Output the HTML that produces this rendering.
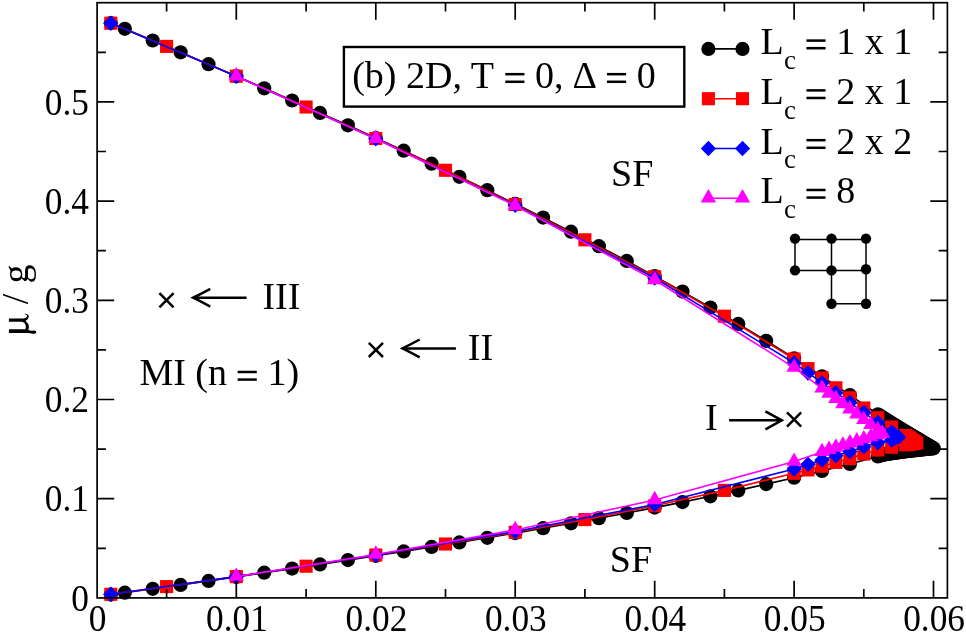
<!DOCTYPE html>
<html><head><meta charset="utf-8"><title>Phase diagram</title>
<style>html,body{margin:0;padding:0;background:#fff;}body{width:966px;height:634px;overflow:hidden;}svg{display:block;will-change:transform;}text{font-family:"Liberation Serif",serif;fill:#000;white-space:pre;}</style>
</head><body>
<svg width="966" height="634" viewBox="0 0 966 634">
<rect width="966" height="634" fill="#fff"/>
<defs>
<circle id="mc" r="7.1" fill="#000"/>
<rect id="ms" x="-6.55" y="-6.55" width="13.1" height="13.1" fill="#f00"/>
<path id="md" d="M0,-7.8L7.6,0L0,7.8L-7.6,0Z" fill="#00f"/>
<path id="mt" d="M0,-9.2L7.7,4.2L-7.7,4.2Z" fill="#f0f"/>
<path id="mx" d="M-7.1,-7.1L7.1,7.1M-7.1,7.1L7.1,-7.1" stroke="#000" stroke-width="2.5" fill="none"/>
</defs>
<g><polyline points="110.8,23.0 124.8,28.8 152.7,40.5 180.6,52.3 208.5,64.2 236.3,76.2 264.2,88.3 292.1,100.5 320.0,112.9 347.9,125.3 375.8,138.0 403.7,150.7 431.6,163.7 459.4,176.8 487.3,190.2 515.2,203.8 543.1,217.6 571.0,231.7 598.9,246.2 626.8,260.9 654.7,276.1 682.5,291.6 710.4,307.5 738.3,323.9 766.2,340.8 794.1,358.3 822.0,376.3 849.9,395.0 877.8,414.3 879.2,415.2 880.6,416.1 882.0,417.0 883.4,417.9 884.8,418.8 886.2,419.7 887.6,420.5 889.0,421.4 890.3,422.3 891.7,423.1 893.1,424.0 894.5,424.8 895.9,425.7 897.3,426.6 898.7,427.4 900.1,428.3 901.5,429.1 902.9,430.0 904.3,430.8 905.7,431.6 907.1,432.5 908.5,433.3 909.9,434.2 911.3,435.0 912.7,435.8 914.1,436.7 915.5,437.5 916.9,438.3 918.3,439.2 919.7,440.0 921.1,440.8 922.5,441.7 923.9,442.5 925.3,443.3 926.7,444.2 928.1,445.0 929.5,445.8 930.9,446.6 932.3,447.5 933.7,448.3 932.3,448.4 930.9,448.6 929.5,448.7 928.1,448.9 926.7,449.0 925.3,449.2 923.9,449.3 922.5,449.5 921.1,449.6 919.7,449.8 918.3,449.9 916.9,450.1 915.5,450.2 914.1,450.4 912.7,450.5 911.3,450.7 909.9,450.9 908.5,451.0 907.1,451.2 905.7,451.4 904.3,451.5 902.9,451.7 901.5,451.9 900.1,452.1 898.7,452.3 897.3,452.5 895.9,452.7 894.5,452.9 893.1,453.1 891.7,453.3 890.3,453.5 889.0,453.7 887.6,454.0 886.2,454.2 884.8,454.5 883.4,454.8 882.0,455.1 880.6,455.4 879.2,455.8 877.8,456.5 849.9,463.9 822.0,470.9 794.1,477.7 766.2,484.1 738.3,490.4 710.4,496.3 682.5,502.1 654.7,507.6 626.8,513.0 598.9,518.2 571.0,523.3 543.1,528.2 515.2,533.1 487.3,537.8 459.4,542.4 431.6,546.9 403.7,551.4 375.8,555.8 347.9,560.1 320.0,564.4 292.1,568.6 264.2,572.7 236.3,576.9 208.5,580.9 180.6,584.9 152.7,588.8 124.8,592.7 110.8,594.6" fill="none" stroke="#000" stroke-width="1.6" stroke-linejoin="round"/>
<use href="#mc" x="110.8" y="23.0"/><use href="#mc" x="124.8" y="28.8"/><use href="#mc" x="152.7" y="40.5"/><use href="#mc" x="180.6" y="52.3"/><use href="#mc" x="208.5" y="64.2"/><use href="#mc" x="236.3" y="76.2"/><use href="#mc" x="264.2" y="88.3"/><use href="#mc" x="292.1" y="100.5"/><use href="#mc" x="320.0" y="112.9"/><use href="#mc" x="347.9" y="125.3"/><use href="#mc" x="375.8" y="138.0"/><use href="#mc" x="403.7" y="150.7"/><use href="#mc" x="431.6" y="163.7"/><use href="#mc" x="459.4" y="176.8"/><use href="#mc" x="487.3" y="190.2"/><use href="#mc" x="515.2" y="203.8"/><use href="#mc" x="543.1" y="217.6"/><use href="#mc" x="571.0" y="231.7"/><use href="#mc" x="598.9" y="246.2"/><use href="#mc" x="626.8" y="260.9"/><use href="#mc" x="654.7" y="276.1"/><use href="#mc" x="682.5" y="291.6"/><use href="#mc" x="710.4" y="307.5"/><use href="#mc" x="738.3" y="323.9"/><use href="#mc" x="766.2" y="340.8"/><use href="#mc" x="794.1" y="358.3"/><use href="#mc" x="822.0" y="376.3"/><use href="#mc" x="849.9" y="395.0"/><use href="#mc" x="877.8" y="414.3"/><use href="#mc" x="879.2" y="415.2"/><use href="#mc" x="880.6" y="416.1"/><use href="#mc" x="882.0" y="417.0"/><use href="#mc" x="883.4" y="417.9"/><use href="#mc" x="884.8" y="418.8"/><use href="#mc" x="886.2" y="419.7"/><use href="#mc" x="887.6" y="420.5"/><use href="#mc" x="889.0" y="421.4"/><use href="#mc" x="890.3" y="422.3"/><use href="#mc" x="891.7" y="423.1"/><use href="#mc" x="893.1" y="424.0"/><use href="#mc" x="894.5" y="424.8"/><use href="#mc" x="895.9" y="425.7"/><use href="#mc" x="897.3" y="426.6"/><use href="#mc" x="898.7" y="427.4"/><use href="#mc" x="900.1" y="428.3"/><use href="#mc" x="901.5" y="429.1"/><use href="#mc" x="902.9" y="430.0"/><use href="#mc" x="904.3" y="430.8"/><use href="#mc" x="905.7" y="431.6"/><use href="#mc" x="907.1" y="432.5"/><use href="#mc" x="908.5" y="433.3"/><use href="#mc" x="909.9" y="434.2"/><use href="#mc" x="911.3" y="435.0"/><use href="#mc" x="912.7" y="435.8"/><use href="#mc" x="914.1" y="436.7"/><use href="#mc" x="915.5" y="437.5"/><use href="#mc" x="916.9" y="438.3"/><use href="#mc" x="918.3" y="439.2"/><use href="#mc" x="919.7" y="440.0"/><use href="#mc" x="921.1" y="440.8"/><use href="#mc" x="922.5" y="441.7"/><use href="#mc" x="923.9" y="442.5"/><use href="#mc" x="925.3" y="443.3"/><use href="#mc" x="926.7" y="444.2"/><use href="#mc" x="928.1" y="445.0"/><use href="#mc" x="929.5" y="445.8"/><use href="#mc" x="930.9" y="446.6"/><use href="#mc" x="932.3" y="447.5"/><use href="#mc" x="933.7" y="448.3"/><use href="#mc" x="932.3" y="448.4"/><use href="#mc" x="930.9" y="448.6"/><use href="#mc" x="929.5" y="448.7"/><use href="#mc" x="928.1" y="448.9"/><use href="#mc" x="926.7" y="449.0"/><use href="#mc" x="925.3" y="449.2"/><use href="#mc" x="923.9" y="449.3"/><use href="#mc" x="922.5" y="449.5"/><use href="#mc" x="921.1" y="449.6"/><use href="#mc" x="919.7" y="449.8"/><use href="#mc" x="918.3" y="449.9"/><use href="#mc" x="916.9" y="450.1"/><use href="#mc" x="915.5" y="450.2"/><use href="#mc" x="914.1" y="450.4"/><use href="#mc" x="912.7" y="450.5"/><use href="#mc" x="911.3" y="450.7"/><use href="#mc" x="909.9" y="450.9"/><use href="#mc" x="908.5" y="451.0"/><use href="#mc" x="907.1" y="451.2"/><use href="#mc" x="905.7" y="451.4"/><use href="#mc" x="904.3" y="451.5"/><use href="#mc" x="902.9" y="451.7"/><use href="#mc" x="901.5" y="451.9"/><use href="#mc" x="900.1" y="452.1"/><use href="#mc" x="898.7" y="452.3"/><use href="#mc" x="897.3" y="452.5"/><use href="#mc" x="895.9" y="452.7"/><use href="#mc" x="894.5" y="452.9"/><use href="#mc" x="893.1" y="453.1"/><use href="#mc" x="891.7" y="453.3"/><use href="#mc" x="890.3" y="453.5"/><use href="#mc" x="889.0" y="453.7"/><use href="#mc" x="887.6" y="454.0"/><use href="#mc" x="886.2" y="454.2"/><use href="#mc" x="884.8" y="454.5"/><use href="#mc" x="883.4" y="454.8"/><use href="#mc" x="882.0" y="455.1"/><use href="#mc" x="880.6" y="455.4"/><use href="#mc" x="879.2" y="455.8"/><use href="#mc" x="877.8" y="456.5"/><use href="#mc" x="849.9" y="463.9"/><use href="#mc" x="822.0" y="470.9"/><use href="#mc" x="794.1" y="477.7"/><use href="#mc" x="766.2" y="484.1"/><use href="#mc" x="738.3" y="490.4"/><use href="#mc" x="710.4" y="496.3"/><use href="#mc" x="682.5" y="502.1"/><use href="#mc" x="654.7" y="507.6"/><use href="#mc" x="626.8" y="513.0"/><use href="#mc" x="598.9" y="518.2"/><use href="#mc" x="571.0" y="523.3"/><use href="#mc" x="543.1" y="528.2"/><use href="#mc" x="515.2" y="533.1"/><use href="#mc" x="487.3" y="537.8"/><use href="#mc" x="459.4" y="542.4"/><use href="#mc" x="431.6" y="546.9"/><use href="#mc" x="403.7" y="551.4"/><use href="#mc" x="375.8" y="555.8"/><use href="#mc" x="347.9" y="560.1"/><use href="#mc" x="320.0" y="564.4"/><use href="#mc" x="292.1" y="568.6"/><use href="#mc" x="264.2" y="572.7"/><use href="#mc" x="236.3" y="576.9"/><use href="#mc" x="208.5" y="580.9"/><use href="#mc" x="180.6" y="584.9"/><use href="#mc" x="152.7" y="588.8"/><use href="#mc" x="124.8" y="592.7"/><use href="#mc" x="110.8" y="594.6"/>
</g>
<g><polyline points="110.8,23.2 166.6,46.4 236.3,76.2 306.1,107.0 375.8,138.5 445.5,170.3 515.2,204.5 584.9,239.8 654.7,276.8 724.4,316.2 794.1,359.0 808.0,368.6 822.0,378.0 835.9,387.8 849.9,397.8 863.8,408.0 877.8,417.7 891.7,427.0 905.7,435.5 907.5,436.8 909.4,438.0 911.2,439.2 913.1,440.5 914.9,441.8 916.8,443.0 914.9,443.3 913.1,443.6 911.2,443.9 909.4,444.2 907.5,444.5 905.7,444.8 891.7,447.2 877.8,450.0 863.8,454.0 849.9,458.6 835.9,462.4 822.0,466.2 808.0,469.9 794.1,473.3 724.4,490.4 654.7,505.8 584.9,519.6 515.2,532.3 445.5,544.0 375.8,555.0 306.1,566.2 236.3,576.6 166.6,586.6 110.8,594.3" fill="none" stroke="#f00" stroke-width="1.6" stroke-linejoin="round"/>
<use href="#ms" x="110.8" y="23.2"/><use href="#ms" x="166.6" y="46.4"/><use href="#ms" x="236.3" y="76.2"/><use href="#ms" x="306.1" y="107.0"/><use href="#ms" x="375.8" y="138.5"/><use href="#ms" x="445.5" y="170.3"/><use href="#ms" x="515.2" y="204.5"/><use href="#ms" x="584.9" y="239.8"/><use href="#ms" x="654.7" y="276.8"/><use href="#ms" x="724.4" y="316.2"/><use href="#ms" x="794.1" y="359.0"/><use href="#ms" x="808.0" y="368.6"/><use href="#ms" x="822.0" y="378.0"/><use href="#ms" x="835.9" y="387.8"/><use href="#ms" x="849.9" y="397.8"/><use href="#ms" x="863.8" y="408.0"/><use href="#ms" x="877.8" y="417.7"/><use href="#ms" x="891.7" y="427.0"/><use href="#ms" x="905.7" y="435.5"/><use href="#ms" x="907.5" y="436.8"/><use href="#ms" x="909.4" y="438.0"/><use href="#ms" x="911.2" y="439.2"/><use href="#ms" x="913.1" y="440.5"/><use href="#ms" x="914.9" y="441.8"/><use href="#ms" x="916.8" y="443.0"/><use href="#ms" x="914.9" y="443.3"/><use href="#ms" x="913.1" y="443.6"/><use href="#ms" x="911.2" y="443.9"/><use href="#ms" x="909.4" y="444.2"/><use href="#ms" x="907.5" y="444.5"/><use href="#ms" x="905.7" y="444.8"/><use href="#ms" x="891.7" y="447.2"/><use href="#ms" x="877.8" y="450.0"/><use href="#ms" x="863.8" y="454.0"/><use href="#ms" x="849.9" y="458.6"/><use href="#ms" x="835.9" y="462.4"/><use href="#ms" x="822.0" y="466.2"/><use href="#ms" x="808.0" y="469.9"/><use href="#ms" x="794.1" y="473.3"/><use href="#ms" x="724.4" y="490.4"/><use href="#ms" x="654.7" y="505.8"/><use href="#ms" x="584.9" y="519.6"/><use href="#ms" x="515.2" y="532.3"/><use href="#ms" x="445.5" y="544.0"/><use href="#ms" x="375.8" y="555.0"/><use href="#ms" x="306.1" y="566.2"/><use href="#ms" x="236.3" y="576.6"/><use href="#ms" x="166.6" y="586.6"/><use href="#ms" x="110.8" y="594.3"/>
</g>
<g><polyline points="110.8,23.2 236.3,76.2 375.8,138.8 515.2,205.2 654.7,278.0 794.1,363.0 808.0,372.9 822.0,382.8 835.9,392.7 849.9,402.6 863.8,412.6 877.8,422.5 891.7,432.4 895.0,434.8 898.5,437.2 895.0,438.0 891.7,440.0 877.8,442.6 863.8,446.8 849.9,451.4 835.9,455.6 822.0,459.9 808.0,464.2 794.1,469.0 654.7,504.5 515.2,531.5 375.8,555.0 236.3,576.6 110.8,594.3" fill="none" stroke="#00f" stroke-width="1.6" stroke-linejoin="round"/>
<use href="#md" x="110.8" y="23.2"/><use href="#md" x="236.3" y="76.2"/><use href="#md" x="375.8" y="138.8"/><use href="#md" x="515.2" y="205.2"/><use href="#md" x="654.7" y="278.0"/><use href="#md" x="794.1" y="363.0"/><use href="#md" x="808.0" y="372.9"/><use href="#md" x="822.0" y="382.8"/><use href="#md" x="835.9" y="392.7"/><use href="#md" x="849.9" y="402.6"/><use href="#md" x="863.8" y="412.6"/><use href="#md" x="877.8" y="422.5"/><use href="#md" x="891.7" y="432.4"/><use href="#md" x="895.0" y="434.8"/><use href="#md" x="898.5" y="437.2"/><use href="#md" x="895.0" y="438.0"/><use href="#md" x="891.7" y="440.0"/><use href="#md" x="877.8" y="442.6"/><use href="#md" x="863.8" y="446.8"/><use href="#md" x="849.9" y="451.4"/><use href="#md" x="835.9" y="455.6"/><use href="#md" x="822.0" y="459.9"/><use href="#md" x="808.0" y="464.2"/><use href="#md" x="794.1" y="469.0"/><use href="#md" x="654.7" y="504.5"/><use href="#md" x="515.2" y="531.5"/><use href="#md" x="375.8" y="555.0"/><use href="#md" x="236.3" y="576.6"/><use href="#md" x="110.8" y="594.3"/>
</g>
<g><polyline points="236.3,76.2 375.8,138.8 515.2,205.7 654.7,280.0 794.1,367.6 822.0,388.4 829.0,393.6 835.9,398.8 842.9,404.0 849.9,409.2 856.8,414.4 863.8,419.7 870.8,424.9 877.8,430.1 882.5,433.6 877.8,435.0 870.8,437.0 863.8,439.1 856.8,441.2 849.9,443.3 842.9,445.4 835.9,447.5 829.0,449.7 822.0,451.9 794.1,461.6 654.7,500.0 515.2,530.0 375.8,554.5 236.3,576.6" fill="none" stroke="#f0f" stroke-width="1.6" stroke-linejoin="round"/>
<use href="#mt" x="236.3" y="76.2"/><use href="#mt" x="375.8" y="138.8"/><use href="#mt" x="515.2" y="205.7"/><use href="#mt" x="654.7" y="280.0"/><use href="#mt" x="794.1" y="367.6"/><use href="#mt" x="822.0" y="388.4"/><use href="#mt" x="829.0" y="393.6"/><use href="#mt" x="835.9" y="398.8"/><use href="#mt" x="842.9" y="404.0"/><use href="#mt" x="849.9" y="409.2"/><use href="#mt" x="856.8" y="414.4"/><use href="#mt" x="863.8" y="419.7"/><use href="#mt" x="870.8" y="424.9"/><use href="#mt" x="877.8" y="430.1"/><use href="#mt" x="882.5" y="433.6"/><use href="#mt" x="877.8" y="435.0"/><use href="#mt" x="870.8" y="437.0"/><use href="#mt" x="863.8" y="439.1"/><use href="#mt" x="856.8" y="441.2"/><use href="#mt" x="849.9" y="443.3"/><use href="#mt" x="842.9" y="445.4"/><use href="#mt" x="835.9" y="447.5"/><use href="#mt" x="829.0" y="449.7"/><use href="#mt" x="822.0" y="451.9"/><use href="#mt" x="794.1" y="461.6"/><use href="#mt" x="654.7" y="500.0"/><use href="#mt" x="515.2" y="530.0"/><use href="#mt" x="375.8" y="554.5"/><use href="#mt" x="236.3" y="576.6"/>
</g>
<g stroke="#000" stroke-width="1.7" fill="none">
<rect x="97.1" y="2.7" width="850.3" height="595.2"/>
<path d="M166.6,597.9v-8.8M166.6,2.7v8.8M236.3,597.9v-17.1M236.3,2.7v17.1M306.1,597.9v-8.8M306.1,2.7v8.8M375.8,597.9v-17.1M375.8,2.7v17.1M445.5,597.9v-8.8M445.5,2.7v8.8M515.2,597.9v-17.1M515.2,2.7v17.1M584.9,597.9v-8.8M584.9,2.7v8.8M654.7,597.9v-17.1M654.7,2.7v17.1M724.4,597.9v-8.8M724.4,2.7v8.8M794.1,597.9v-17.1M794.1,2.7v17.1M863.8,597.9v-8.8M863.8,2.7v8.8M933.5,597.9v-17.1M933.5,2.7v17.1M97.1,548.3h8.8M947.4,548.3h-8.8M97.1,498.7h17.1M947.4,498.7h-17.1M97.1,449.1h8.8M947.4,449.1h-8.8M97.1,399.5h17.1M947.4,399.5h-17.1M97.1,349.9h8.8M947.4,349.9h-8.8M97.1,300.3h17.1M947.4,300.3h-17.1M97.1,250.7h8.8M947.4,250.7h-8.8M97.1,201.1h17.1M947.4,201.1h-17.1M97.1,151.5h8.8M947.4,151.5h-8.8M97.1,101.9h17.1M947.4,101.9h-17.1M97.1,52.3h8.8M947.4,52.3h-8.8"/>
</g>
<g font-size="37">
<text transform="translate(97.5,631.3) scale(0.955,1)" text-anchor="middle">0</text>
<text transform="translate(236.9,631.3) scale(0.955,1)" text-anchor="middle">0.01</text>
<text transform="translate(376.4,631.3) scale(0.955,1)" text-anchor="middle">0.02</text>
<text transform="translate(515.8,631.3) scale(0.955,1)" text-anchor="middle">0.03</text>
<text transform="translate(655.3,631.3) scale(0.955,1)" text-anchor="middle">0.04</text>
<text transform="translate(794.7,631.3) scale(0.955,1)" text-anchor="middle">0.05</text>
<text transform="translate(934.1,631.3) scale(0.955,1)" text-anchor="middle">0.06</text>
<text transform="translate(89,610.6) scale(0.955,1)" text-anchor="end">0</text>
<text transform="translate(89,511.4) scale(0.955,1)" text-anchor="end">0.1</text>
<text transform="translate(89,412.2) scale(0.955,1)" text-anchor="end">0.2</text>
<text transform="translate(89,313.0) scale(0.955,1)" text-anchor="end">0.3</text>
<text transform="translate(89,213.8) scale(0.955,1)" text-anchor="end">0.4</text>
<text transform="translate(89,114.6) scale(0.955,1)" text-anchor="end">0.5</text>
</g>
<g transform="translate(28.1,0) rotate(-90)" font-size="38.0" text-anchor="middle">
<text x="-299.0" y="0">/</text>
<text x="-274.0" y="0">g</text>
</g>
<path fill="#000" d="M8.9,329.3H27Q30,331.4 33.4,330.5Q36.5,330.2 36.3,332.2Q36,334 33,333.7Q30,333.2 27,332.9H8.9ZM8.9,318.4H23.5Q26.5,318.2 27.2,316.3Q27.6,314.7 24.2,313.9Q28.7,313.5 28.8,316.6Q28.7,319.4 25.6,321Q28.6,323.4 28.9,326.6Q29,329.6 27.6,331.4L25.4,329.4Q26.3,327.5 25.6,325Q24.8,322.4 22,321.8H8.9Z"/>
<g font-size="38.0">
<rect x="343.9" y="47.0" width="340.4" height="59.6" fill="#fff" stroke="#000" stroke-width="2.4"/>
<text x="352.20" y="87.60">(b) 2D, T </text><rect x="505.30" y="72.93" width="19.15" height="2.51"/><rect x="505.30" y="80.53" width="19.15" height="2.51"/><text x="525.59" y="87.60"> 0, </text><text x="572.49" y="87.60">Δ</text><text x="596.35" y="87.60"> </text><rect x="606.99" y="72.93" width="19.15" height="2.51"/><rect x="606.99" y="80.53" width="19.15" height="2.51"/><text x="627.28" y="87.60"> 0</text>
<text x="611.0" y="185.5">SF</text>
<text x="609.8" y="572.3">SF</text>
<text x="262.4" y="309.1">III</text>
<text x="467.8" y="359.6">II</text>
<text x="704.9" y="429.7">I</text>
<text x="139.40" y="385.40">MI (n </text><rect x="237.64" y="370.73" width="19.15" height="2.51"/><rect x="237.64" y="378.33" width="19.15" height="2.51"/><text x="257.93" y="385.40"> 1)</text>
<path d="M708.4,48.9H742.5" stroke="#000" stroke-width="1.6"/>
<use href="#mc" x="708.4" y="48.9"/><use href="#mc" x="742.5" y="48.9"/>
<text x="760.60" y="54.00">L</text><text x="784.11" y="68.82" font-size="27.0">c</text><text x="795.79" y="54.00"> </text><rect x="806.43" y="39.33" width="19.15" height="2.51"/><rect x="806.43" y="46.93" width="19.15" height="2.51"/><text x="826.72" y="54.00"> 1 x 1</text>
<path d="M708.4,98.7H742.5" stroke="#f00" stroke-width="1.6"/>
<use href="#ms" x="708.4" y="98.7"/><use href="#ms" x="742.5" y="98.7"/>
<text x="760.60" y="103.80">L</text><text x="784.11" y="118.62" font-size="27.0">c</text><text x="795.79" y="103.80"> </text><rect x="806.43" y="89.13" width="19.15" height="2.51"/><rect x="806.43" y="96.73" width="19.15" height="2.51"/><text x="826.72" y="103.80"> 2 x 1</text>
<path d="M708.4,148.5H742.5" stroke="#00f" stroke-width="1.6"/>
<use href="#md" x="708.4" y="148.5"/><use href="#md" x="742.5" y="148.5"/>
<text x="760.60" y="153.60">L</text><text x="784.11" y="168.42" font-size="27.0">c</text><text x="795.79" y="153.60"> </text><rect x="806.43" y="138.93" width="19.15" height="2.51"/><rect x="806.43" y="146.53" width="19.15" height="2.51"/><text x="826.72" y="153.60"> 2 x 2</text>
<path d="M708.4,198.3H742.5" stroke="#f0f" stroke-width="1.6"/>
<use href="#mt" x="708.4" y="198.3"/><use href="#mt" x="742.5" y="198.3"/>
<text x="760.60" y="203.40">L</text><text x="784.11" y="218.22" font-size="27.0">c</text><text x="795.79" y="203.40"> </text><rect x="806.43" y="188.73" width="19.15" height="2.51"/><rect x="806.43" y="196.33" width="19.15" height="2.51"/><text x="826.72" y="203.40"> 8</text>
</g>
<use href="#mx" x="166.5" y="300.2"/>
<use href="#mx" x="375.9" y="349.9"/>
<use href="#mx" x="794.1" y="419.5"/>
<g stroke="#000" stroke-width="2.5" fill="none" stroke-linejoin="miter">
<path d="M246.6,297.7H194.2M210.3,288.8Q200.7,294 193.1,297.7Q200.7,301.4 210.3,306.6"/>
<path d="M455.9,348.4H403.5M419.7,339.5Q410,344.7 402.5,348.4Q410,352.1 419.7,357.3"/>
<path d="M729.1,420.3H781M765.4,411.3Q775,416.6 781.8,420.3Q775,424 765.4,429.3"/>
</g>
<g stroke="#000" stroke-width="1.5" fill="none">
<path d="M795,239.6H866M795,270.59999999999997H866M831.5,303.7H866M795,238.6V270.4M831.5,238.6V303.7M866,238.6V303.7"/>
</g>
<circle cx="795" cy="238.6" r="5.2" fill="#000"/>
<circle cx="831.5" cy="238.6" r="5.2" fill="#000"/>
<circle cx="866" cy="238.6" r="5.2" fill="#000"/>
<circle cx="795" cy="270.4" r="5.2" fill="#000"/>
<circle cx="831.5" cy="270.4" r="5.2" fill="#000"/>
<circle cx="866" cy="269.2" r="5.2" fill="#000"/>
<circle cx="831.5" cy="303.7" r="5.2" fill="#000"/>
<circle cx="866" cy="303.7" r="5.2" fill="#000"/>
</svg></body></html>
